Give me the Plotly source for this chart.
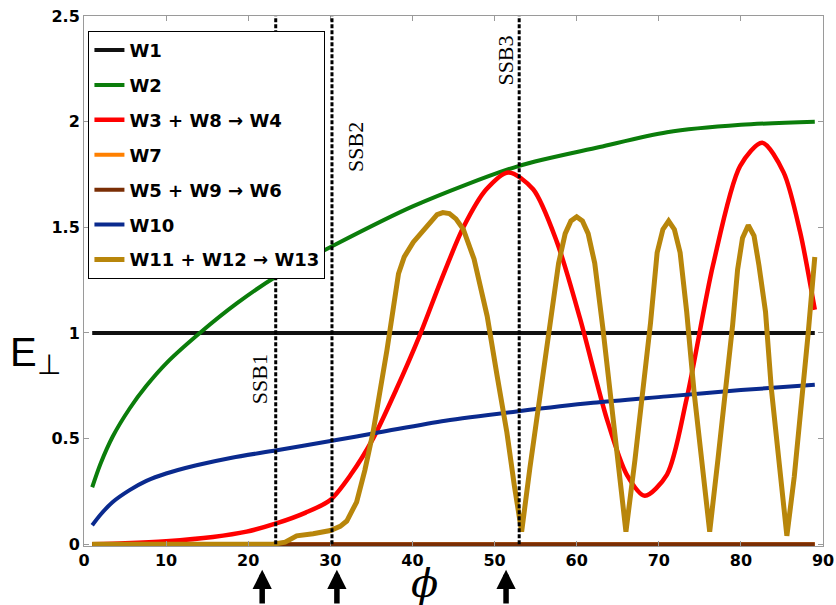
import plotly.graph_objects as go

# ---------------- data ----------------
x_full = [1, 89]
w1_y = [1.0, 1.0]
w7_y = [0.0, 0.0]
w6_y = [0.0, 0.0]

w2_x = [1, 2, 3.5, 5.6, 7.6, 10.1, 14.1, 18.6, 23.5, 30.2, 40.1, 52.9, 62.8, 71, 80, 89]
w2_y = [0.27, 0.38, 0.51, 0.645, 0.75, 0.86, 1.0, 1.14, 1.27, 1.41, 1.60, 1.79, 1.88, 1.95, 1.985, 2.0]

w10_x = [1, 2, 3.5, 5.5, 7.6, 10, 13.7, 18, 23.5, 30.2, 36, 44, 52.9, 62, 71, 80, 89]
w10_y = [0.09, 0.14, 0.20, 0.255, 0.30, 0.335, 0.374, 0.41, 0.445, 0.49, 0.53, 0.585, 0.63, 0.67, 0.70, 0.73, 0.755]

w4_x = [1, 5, 10, 15.7, 19.8, 23.5, 27, 30, 32.5, 35.2, 38, 40.9, 43.5, 46.2, 49, 51.7, 54.7, 57.6, 60.4,
        63.7, 66.1, 68.3, 71, 73.4, 76.6, 79.9, 82.6, 85.2, 87.2, 89]
w4_y = [0.0, 0.005, 0.015, 0.035, 0.06, 0.10, 0.15, 0.21, 0.33, 0.50, 0.73, 0.99, 1.25, 1.50, 1.68, 1.76, 1.68, 1.43, 1.07,
        0.59, 0.33, 0.23, 0.33, 0.69, 1.32, 1.79, 1.90, 1.76, 1.48, 1.11]

w13_x = [1, 23, 24.5, 25.9, 27.9, 30, 31.2, 32, 33.2, 34.2, 35.2, 36.9, 38.3, 39.0, 40.1, 42, 43, 43.7,
         44.5, 45.3, 46.2, 47.5, 49.1, 50.3, 51.5, 52.4, 53.3,
         54.3, 55.5, 56.7, 57.8, 58.6, 59.3, 60, 60.7, 61.4, 62.2, 63.2, 64.1, 65, 66,
         67.1, 68.1, 69.0, 69.8, 70.5, 71.2, 71.9, 72.6, 73.4, 74.3, 75.2, 76.2,
         77.2, 78.2, 79.0, 79.6, 80.2, 80.9, 81.6, 82.2, 83.0, 83.7, 84.6, 85.6,
         86.5, 87.3, 88.2, 89]
w13_y = [0, 0, 0.01, 0.04, 0.05, 0.065, 0.085, 0.11, 0.20, 0.35, 0.53, 0.92, 1.28, 1.36, 1.43, 1.52, 1.56, 1.57,
         1.565, 1.54, 1.49, 1.35, 1.08, 0.80, 0.53, 0.28, 0.06,
         0.36, 0.69, 1.02, 1.33, 1.47, 1.53, 1.55, 1.53, 1.47, 1.33, 1.02, 0.70, 0.38, 0.06,
         0.40, 0.72, 1.05, 1.38, 1.49, 1.53, 1.49, 1.38, 1.10, 0.72, 0.40, 0.06,
         0.40, 0.74, 1.04, 1.30, 1.45, 1.51, 1.46, 1.32, 1.10, 0.74, 0.40, 0.04,
         0.32, 0.62, 1.0, 1.36]

ssb_x = [23.35, 30.2, 53.0]
ssb_labels = ["SSB1", "SSB2", "SSB3"]
ssb_label_x = [21.4, 33.0, 51.3]
ssb_label_y = [0.78, 1.88, 2.29]
arrow_x = [21.7, 30.8, 51.4]

x_ticks = [0, 10, 20, 30, 40, 50, 60, 70, 80, 90]
y_ticks = [0, 0.5, 1, 1.5, 2, 2.5]
y_ticktext = ["0", "0.5", "1", "1.5", "2", "2.5"]

# ---------------- figure ----------------
fig = go.Figure()
series = [
    ("W1", x_full, w1_y, "#111111", 4, "linear"),
    ("W2", w2_x, w2_y, "#0b7d0b", 4, "spline"),
    ("W3 + W8 \u2192 W4", w4_x, w4_y, "#ff0000", 4.5, "spline"),
    ("W7", x_full, w7_y, "#ff8000", 4, "linear"),
    ("W5 + W9 \u2192 W6", x_full, w6_y, "#7a2e05", 4, "linear"),
    ("W10", w10_x, w10_y, "#0a2a8e", 4, "spline"),
    ("W11 + W12 \u2192 W13", w13_x, w13_y, "#b8860b", 5, "linear"),
]
for i, (name, xs, ys, col, w, shape) in enumerate(series):
    fig.add_trace(go.Scatter(
        x=xs, y=ys, mode="lines", name=name, legendgroup=f"g{i}",
        line=dict(color=col, width=w, shape=shape, smoothing=0.8 if shape == "spline" else None),
    ))

for xv in ssb_x:
    fig.add_shape(type="line", x0=xv, x1=xv, y0=0, y1=2.5, xref="x", yref="y",
                  line=dict(color="black", width=3, dash="4px,2px"), layer="above")

for lx, ly, txt in zip(ssb_label_x, ssb_label_y, ssb_labels):
    fig.add_annotation(x=lx, y=ly, xref="x", yref="y", text=txt, showarrow=False,
                       textangle=-90, font=dict(family="Liberation Serif", size=22, color="black"))

for ax_ in arrow_x:
    fig.add_annotation(x=ax_, y=-0.045, xref="x", yref="paper", text="", showarrow=True,
                       ax=0, ay=45, arrowhead=2, arrowsize=0.7, arrowwidth=5.5, arrowcolor="black")

fig.add_annotation(x=0.461, y=-0.117, xref="paper", yref="paper", text="\u03d5", showarrow=False,
                   font=dict(family="DejaVu Serif", size=40, color="black", style="italic"))
fig.add_annotation(x=-0.103, y=0.36, xref="paper", yref="paper", xanchor="left",
                   text="E<sub>\u22a5</sub>", showarrow=False,
                   font=dict(family="Liberation Sans", size=40, color="black"))

axis_common = dict(showline=True, linecolor="#9a9a9a", linewidth=1, mirror="ticks",
                   ticks="inside", ticklen=5, tickcolor="#9a9a9a", showgrid=False, zeroline=False,
                   automargin=False,
                   tickfont=dict(family="DejaVu Sans", size=16, color="black", weight="bold"))
fig.update_xaxes(range=[0, 90], tickvals=x_ticks, **axis_common)
fig.update_yaxes(range=[-0.008, 2.5], tickvals=y_ticks, ticktext=y_ticktext, **axis_common)

fig.update_layout(
    width=836, height=605,
    margin=dict(l=84, r=13, t=16, b=59),
    plot_bgcolor="white", paper_bgcolor="white",
    showlegend=True,
    legend=dict(x=0.006, y=0.972, xanchor="left", yanchor="top",
                bordercolor="black", borderwidth=1, bgcolor="white",
                tracegroupgap=8.5,
                font=dict(family="DejaVu Sans", size=18, color="black", weight="bold")),
)

fig.write_html("out.html", config={"displayModeBar": False},
               post_script="document.body.style.margin='0px';")
